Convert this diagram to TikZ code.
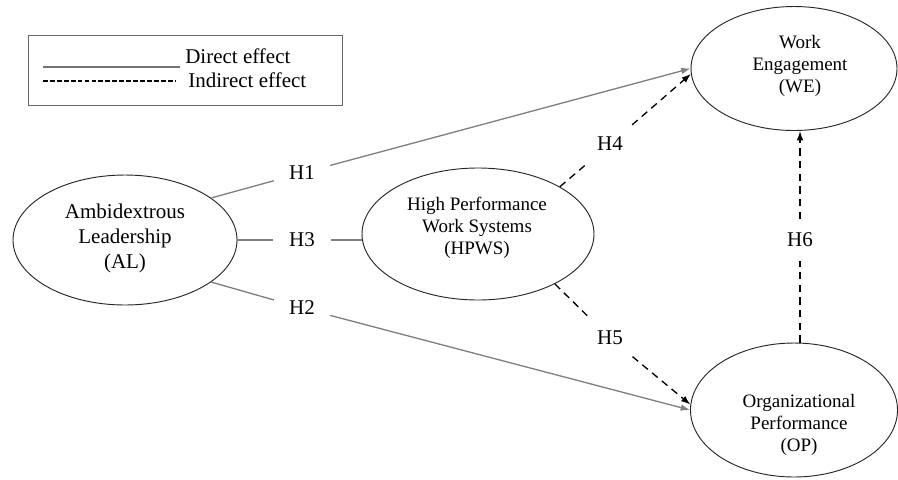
\documentclass[tikz,border=0pt]{standalone}
\usepackage{fontspec}
\setmainfont{Liberation Serif}
\usetikzlibrary{shapes.geometric,arrows.meta,calc}
\begin{document}
\begin{tikzpicture}[x=0.75pt,y=-0.75pt,
  bigfont/.style={font=\fontsize{15.75}{18.75}\selectfont},
  smallfont/.style={font=\fontsize{14.25}{16.5}\selectfont},
  construct/.style={ellipse,draw=black!85,line width=0.7pt,inner sep=0pt},
  ctext/.style={align=center,inner sep=0pt},
  hyp/.style={circle,inner sep=0pt,minimum size=43.5pt,bigfont},
  direct/.style={draw=black!50,line width=1pt},
  indirect/.style={draw=black,line width=1pt,dash pattern=on 5.5pt off 4pt},
  tip/.style={-{Latex[length=7pt,width=5pt]}}
]
\useasboundingbox (0,0) rectangle (898,479);

% legend
\node[draw=black!60,line width=0.8pt,minimum width=235.5pt,minimum height=52.5pt,inner sep=0pt,anchor=north west] (legend) at (28,35) {};
\coordinate (ds) at (43,67);
\coordinate (de) at (180,67);
\coordinate (is) at (43,81);
\coordinate (ie) at (175,81);
\draw[draw=black!55,line width=1pt] (ds) -- (de);
\draw[black,line width=0.8pt,dash pattern=on 3.6pt off 1.6pt] (is) -- (ie);
\node[bigfont,anchor=base west,inner sep=0pt] (dtxt) at (185,63) {Direct effect};
\node[bigfont,anchor=base west,inner sep=0pt] (itxt) at (188,87) {Indirect effect};

% constructs
\node[construct,minimum width=168pt,minimum height=97.5pt] (AL) at (125,240) {};
\node[ctext,bigfont] (ALt) at (125,238) {Ambidextrous\\Leadership\\(AL)};

\node[construct,minimum width=174pt,minimum height=99pt] (HPWS) at (478,234) {};
\node[ctext,smallfont] (HPWSt) at (477,228) {High Performance\\Work Systems\\(HPWS)};

\node[construct,minimum width=154.5pt,minimum height=93pt] (WE) at (794,68.5) {};
\node[ctext,smallfont] (WEt) at (800,65.5) {Work\\Engagement\\(WE)};

\node[construct,minimum width=155.25pt,minimum height=100.5pt] (OP) at (794,410) {};
\node[ctext,smallfont] (OPt) at (799,425) {Organizational\\Performance\\(OP)};

% hypothesis labels
\node[hyp] (H1) at (302,173) {H1};
\node[hyp] (H3) at (302,240) {H3};
\node[hyp] (H2) at (302,308) {H2};
\node[hyp] (H4) at (610,144) {H4};
\node[hyp] (H5) at (610,338) {H5};
\node[hyp,minimum size=31pt] (H6) at (800,240) {H6};

% direct effects
\draw[direct] (AL.26) -- (H1);
\draw[direct,tip] (H1) -- (WE.west);
\draw[direct] (AL.east) -- (H3);
\draw[direct] (H3) -- (H3 -| HPWS.west);
\draw[direct] (AL.-26) -- (H2);
\draw[direct,tip] (H2) -- (OP.west);

% indirect effects
\draw[indirect] (HPWS.30) -- (H4);
\draw[indirect,tip] (H4) -- (WE.183);
\draw[indirect] (HPWS.-33) -- (H5);
\draw[indirect,tip] (H5) -- (OP.177);
\draw[indirect] (OP.north -| H6) -- (H6);
\draw[indirect,tip] (H6) -- (H6 |- WE.south);
\end{tikzpicture}
\end{document}
